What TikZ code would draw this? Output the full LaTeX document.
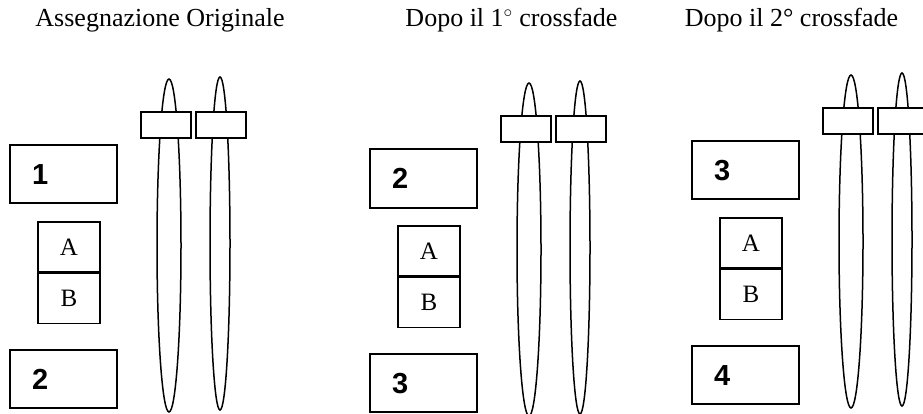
\documentclass[tikz,border=0pt]{standalone}
\usepackage{fontspec}
\setmainfont{Liberation Serif}
\newfontfamily\numfont{Liberation Sans}
\usetikzlibrary{positioning}
\tikzset{
    % Slot with the track number:
    slot/.style = {
        draw,
        line width = 2pt,
        minimum width = 107pt,
        minimum height = 58pt,
        text width = 63pt,
        text height = 21pt,
        text depth = 0pt,
        inner xsep = 22pt,
        inner ysep = 0pt,
        align = left,
        font = \numfont\bfseries\fontsize{29}{29}\selectfont
    },
    % One half of the A/B pair:
    half/.style = {
        draw,
        line width = 1.4pt,
        minimum width = 62pt,
        minimum height = 50pt,
        inner sep = 0pt,
        font = \fontsize{25}{25}\selectfont
    },
    % Fader track:
    fader/.style = {
        line width = 1.5pt
    },
    % Fader knob:
    knob/.style = {
        draw,
        fill = white,
        line width = 2pt,
        minimum width = 50pt,
        minimum height = 26pt,
        inner sep = 0pt
    },
    heading/.style = {
        anchor = base,
        inner sep = 0pt,
        font = \fontsize{26}{30}\selectfont
    }
}

\begin{document}
\begin{tikzpicture}[x=1pt, y=-1pt]
    \useasboundingbox (0, 0) rectangle (923, 414);

    \node [heading] (title a) at (160, 27) {Assegnazione Originale};
    \node [heading] (title b) at (511.5, 27) {Dopo il 1$^{\circ}$ crossfade};
    \node [heading] (title c) at (791.5, 27) {Dopo il 2° crossfade};

    \foreach \dx/\dy/\up/\down/\p in {0/0/1/2/a, 360/4/2/3/b, 682/-4/3/4/c} {
        \begin{scope}[shift={(\dx, \dy)}]
            \node [slot] (up \p) at (63.5, 174.5) {\up};
            \node [half] (A \p) at (69, 247) {A};
            \node [half, below=0pt of A \p] (B \p) {B};
            \node [slot] (down \p) at (63.5, 379) {\down};
            % the two faders, knobs on top
            \draw [fader] (169, 245.5) ellipse [x radius=12, y radius=166.5];
            \draw [fader] (220, 243.5) ellipse [x radius=10, y radius=166.5];
            \node [knob] (knob l \p) at (165.5, 125) {};
            \node [knob, right=3pt of knob l \p] (knob r \p) {};
        \end{scope}
    }
\end{tikzpicture}
\end{document}
